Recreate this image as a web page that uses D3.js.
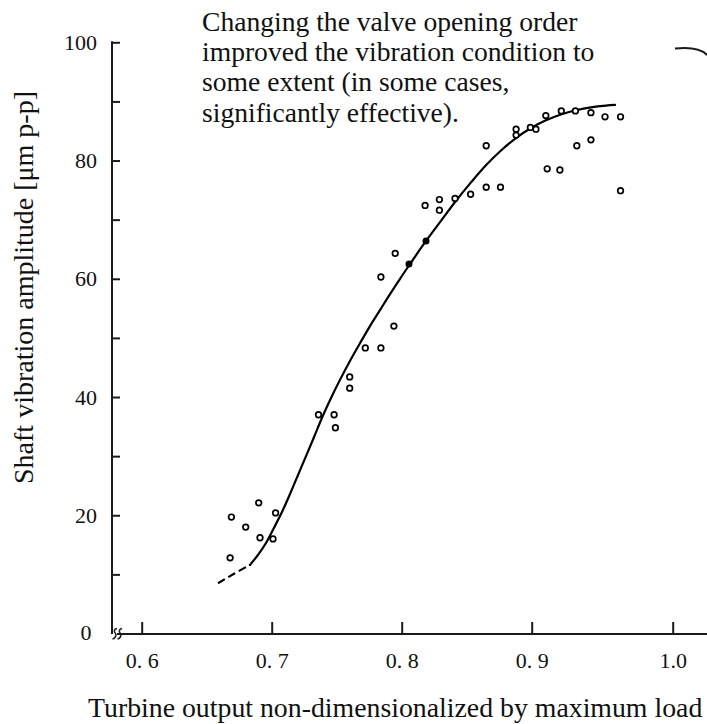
<!DOCTYPE html>
<html>
<head>
<meta charset="utf-8">
<script src="https://cdn.jsdelivr.net/npm/d3@7"></script>
<style>
  html, body { margin: 0; padding: 0; background: #fff; }
  svg { display: block; }
  text { font-family: "Liberation Serif", "Times New Roman", serif; fill: #111; }
</style>
</head>
<body>
<svg id="chart" width="707" height="724"></svg>
<script>
// ---- data ----
const xTickValues = [0.6, 0.7, 0.8, 0.9, 1.0];
const xTickLabels = ["0. 6", "0. 7", "0. 8", "0. 9", "1.0"];
const yTickValues = [10, 20, 30, 40, 50, 60, 70, 80, 90, 100];
const yLabelValues = [0, 20, 40, 60, 80, 100];

const annotationLines = [
  "Changing the valve opening order",
  "improved the vibration condition to",
  "some extent (in some cases,",
  "significantly effective)."
];
const xTitle = "Turbine output non-dimensionalized by maximum load";
const yTitle = "Shaft vibration amplitude [\u03bcm p-p]";

// open circles: [output, amplitude]
const openPoints = [
  [0.669, 19.7], [0.668, 12.8], [0.680, 18.0], [0.690, 22.1], [0.691, 16.2],
  [0.701, 16.0], [0.703, 20.4],
  [0.736, 37.0], [0.748, 37.0], [0.749, 34.8], [0.760, 43.4], [0.760, 41.5],
  [0.772, 48.3], [0.784, 48.3], [0.784, 60.3], [0.794, 52.0], [0.795, 64.3],
  [0.818, 72.4], [0.829, 73.4], [0.829, 71.6], [0.841, 73.6], [0.853, 74.3],
  [0.865, 82.5], [0.865, 75.5], [0.876, 75.5], [0.888, 85.3], [0.888, 84.3],
  [0.899, 85.6], [0.903, 85.3], [0.910, 87.6], [0.911, 78.6], [0.921, 88.4],
  [0.920, 78.4], [0.931, 88.4], [0.932, 82.5], [0.942, 88.1], [0.942, 83.5],
  [0.952, 87.4], [0.963, 87.4], [0.963, 74.9]
];
// filled circles
const filledPoints = [[0.8056, 62.5], [0.8187, 66.4]];

// fitted trend curve
const curveDashed = [[0.6587, 8.5], [0.6710, 10.1], [0.6833, 11.6]];
const curveSolid = [
  [0.6833, 11.6], [0.6895, 13.3], [0.6956, 15.3], [0.7018, 17.9], [0.7080, 20.6],
  [0.7141, 23.6], [0.7202, 26.8], [0.7264, 30.0], [0.7325, 33.2], [0.7387, 36.5],
  [0.7449, 39.5], [0.7525, 42.9], [0.7602, 46.1], [0.7679, 49.1], [0.7756, 52.0],
  [0.7833, 54.7], [0.7910, 57.4], [0.7987, 60.0], [0.8064, 62.5], [0.8187, 66.4],
  [0.8302, 69.8], [0.8418, 73.2], [0.8533, 76.3], [0.8648, 79.2], [0.8764, 81.7],
  [0.8879, 83.8], [0.8995, 85.5], [0.9101, 86.8], [0.9207, 87.8], [0.9314, 88.5],
  [0.9420, 89.0], [0.9527, 89.3], [0.9591, 89.4]
];

// ---- layout ----
const svg = d3.select("#chart");
const axisX0 = 112, axisY0 = 634, axisTop = 42.3, axisRight = 707;
const serif = '"Liberation Serif", "Times New Roman", serif';

const x = d3.scaleLinear()
  .domain(xTickValues)
  .range([141.7, 271.7, 401.7, 531.7, 672.7]);
const y = d3.scaleLinear().domain([0, 100]).range([633.5, axisTop]);

const ink = "#1a1a1a";

// y axis
const yAxis = d3.axisLeft(y)
  .tickValues(yTickValues)
  .tickSizeInner(-8)
  .tickSizeOuter(0)
  .tickFormat(() => "");
const gy = svg.append("g").attr("transform", `translate(${axisX0},0)`).call(yAxis);
gy.select(".domain").remove();
gy.selectAll(".tick line").attr("stroke", ink).attr("stroke-width", 2);

svg.append("line")
  .attr("x1", axisX0).attr("x2", axisX0)
  .attr("y1", axisTop - 1).attr("y2", axisY0)
  .attr("stroke", ink).attr("stroke-width", 2);

svg.append("g").selectAll("text")
  .data(yLabelValues).join("text")
  .attr("x", d => d === 0 ? 91.5 : 97)
  .attr("y", d => d === 0 ? 632 : y(d))
  .attr("text-anchor", "end")
  .attr("dominant-baseline", "central")
  .attr("font-family", serif)
  .attr("font-size", 22)
  .text(d => d);

// x axis
const xAxis = d3.axisBottom(x)
  .tickValues(xTickValues)
  .tickSizeInner(-12)
  .tickSizeOuter(0)
  .tickFormat((d, i) => xTickLabels[i]);
const gx = svg.append("g").attr("transform", `translate(0,${axisY0})`).call(xAxis);
gx.attr("font-family", serif);
gx.select(".domain").remove();
gx.selectAll(".tick line").attr("stroke", ink).attr("stroke-width", 2);
gx.selectAll(".tick text")
  .attr("y", 34).attr("dy", null)
  .attr("font-size", 22)
  .attr("fill", "#111")
  .style("font-family", serif);

svg.append("line")
  .attr("x1", axisX0 + 5).attr("x2", axisRight)
  .attr("y1", axisY0).attr("y2", axisY0)
  .attr("stroke", ink).attr("stroke-width", 2);

// axis break marks
[113.5, 118.5].forEach(ox => {
  svg.append("path")
    .attr("d", `M${ox + 3.5},628.5 C${ox + 0.3},629 ${ox + 0.3},631.8 ${ox + 1.8},633.2 S${ox + 2.2},638.4 ${ox - 1},639`)
    .attr("fill", "none").attr("stroke", ink).attr("stroke-width", 1.5);
});

// small curved stroke at top right
svg.append("path")
  .attr("d", "M675,48.5 Q699,46 707,55")
  .attr("fill", "none").attr("stroke", ink).attr("stroke-width", 2);

// trend curve
const line = d3.line().x(d => x(d[0])).y(d => y(d[1])).curve(d3.curveCatmullRom.alpha(0.5));
svg.append("path").datum(curveSolid)
  .attr("d", line).attr("fill", "none")
  .attr("stroke", "#000").attr("stroke-width", 2.2)
  .attr("stroke-linecap", "round");
svg.append("path").datum(curveDashed)
  .attr("d", line).attr("fill", "none")
  .attr("stroke", "#000").attr("stroke-width", 2.2)
  .attr("stroke-dasharray", "8,4");

// points
svg.append("g").selectAll("circle")
  .data(openPoints).join("circle")
  .attr("cx", d => x(d[0])).attr("cy", d => y(d[1]))
  .attr("r", 2.8)
  .attr("fill", "#fff").attr("stroke", "#000").attr("stroke-width", 1.7);
svg.append("g").selectAll("circle")
  .data(filledPoints).join("circle")
  .attr("cx", d => x(d[0])).attr("cy", d => y(d[1]))
  .attr("r", 3.5).attr("fill", "#000");

// annotation
svg.append("g").selectAll("text")
  .data(annotationLines).join("text")
  .attr("x", 202)
  .attr("y", (d, i) => 31 + i * 30.2)
  .attr("font-family", serif)
  .attr("font-size", 27.6)
  .text(d => d);

// axis titles
svg.append("text")
  .attr("x", 88).attr("y", 717)
  .attr("font-family", serif)
  .attr("font-size", 27.8)
  .text(xTitle);
svg.append("text")
  .attr("transform", "translate(33,287.5) rotate(-90)")
  .attr("text-anchor", "middle")
  .attr("font-family", serif)
  .attr("font-size", 28)
  .text(yTitle);
</script>
</body>
</html>
